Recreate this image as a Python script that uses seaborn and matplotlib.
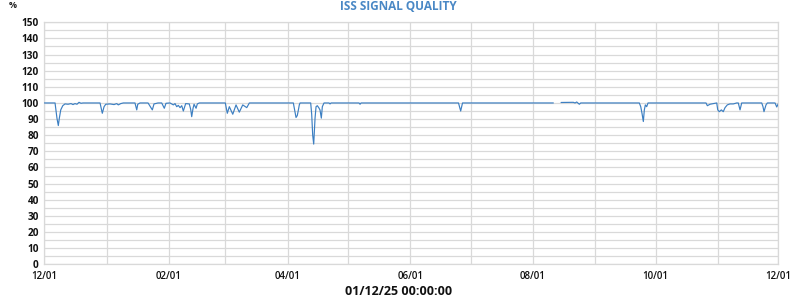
import matplotlib
matplotlib.use("Agg")
import matplotlib.pyplot as plt
import matplotlib.dates as mdates
from matplotlib.ticker import MultipleLocator
import seaborn as sns
import pandas as pd
import numpy as np

# ---- data ----
seg1_times = [
    "2024-12-01 00:00", "2024-12-06 08:00", "2024-12-07 07:00", "2024-12-07 23:00",
    "2024-12-08 11:00", "2024-12-09 04:00", "2024-12-10 04:00", "2024-12-11 07:00",
    "2024-12-12 19:00", "2024-12-14 07:00", "2024-12-15 06:00", "2024-12-16 06:00",
    "2024-12-17 06:00", "2024-12-18 06:00", "2024-12-19 06:00", "2024-12-20 06:00",
    "2024-12-28 17:00", "2024-12-29 20:00", "2024-12-30 17:00", "2024-12-31 13:00",
    "2025-01-02 16:00", "2025-01-04 16:00", "2025-01-06 00:00", "2025-01-06 19:00",
    "2025-01-08 00:00", "2025-01-09 07:00", "2025-01-15 02:00", "2025-01-15 23:00",
    "2025-01-16 11:00", "2025-01-17 14:00", "2025-01-21 14:00", "2025-01-23 17:00",
    "2025-01-24 13:00", "2025-01-26 13:00", "2025-01-28 09:00", "2025-01-29 16:00",
    "2025-01-30 12:00", "2025-02-01 12:00", "2025-02-03 04:00", "2025-02-04 00:00",
    "2025-02-04 20:00", "2025-02-05 15:00", "2025-02-06 12:00", "2025-02-07 08:00",
    "2025-02-08 03:00", "2025-02-09 07:00", "2025-02-11 02:00", "2025-02-11 19:00",
    "2025-02-12 07:00", "2025-02-12 23:00", "2025-02-13 11:00", "2025-02-14 11:00",
    "2025-02-15 02:00", "2025-02-16 02:00", "2025-03-01 00:00", "2025-03-02 00:00",
    "2025-03-03 00:00", "2025-03-04 17:00", "2025-03-06 08:00", "2025-03-07 23:00",
    "2025-03-09 16:00", "2025-03-11 16:00", "2025-03-12 23:00", "2025-04-03 20:00",
    "2025-04-04 04:00", "2025-04-05 04:00", "2025-04-05 19:00", "2025-04-06 12:00",
    "2025-04-06 19:00", "2025-04-07 04:00", "2025-04-12 11:00", "2025-04-12 23:00",
    "2025-04-13 11:00", "2025-04-13 23:00", "2025-04-14 15:00", "2025-04-15 03:00",
    "2025-04-15 18:00", "2025-04-16 11:00", "2025-04-17 02:00", "2025-04-17 18:00",
    "2025-04-18 06:00", "2025-04-19 02:00", "2025-04-21 14:00", "2025-04-22 02:00",
    "2025-04-22 14:00", "2025-05-06 12:00", "2025-05-07 00:00", "2025-05-07 12:00",
    "2025-06-24 23:00", "2025-06-26 01:00", "2025-06-26 23:00", "2025-08-11 03:00",
]
seg1_values = [
    100, 100, 90.5, 86,
    90.5, 95.7, 98.3, 99.4,
    99.2, 99.6, 99.0, 99.6,
    99.2, 100.4, 99.8, 100,
    100, 93.6, 97.7, 99.2,
    99.4, 99.0, 99.6, 98.8,
    99.6, 100, 100, 95.7,
    99.2, 100, 100, 95.7,
    99.4, 100, 100, 96.7,
    99.8, 100, 98.8, 99.6,
    97.7, 98.5, 97.1, 98.3,
    95.0, 99.6, 99.4, 96.0,
    91.5, 96.7, 99.2, 96.7,
    99.4, 100, 100, 93.6,
    97.7, 93.0, 98.8, 94.3,
    98.8, 97.1, 100, 100,
    97.7, 91.0, 92.2, 96.7,
    98.8, 100, 100, 93.0,
    80.0, 74.5, 90.6, 97.7,
    98.3, 97.1, 95.7, 90.6,
    97.7, 100, 100, 99.4,
    100, 100, 99.2, 100,
    100, 95.0, 100, 100,
]
seg2_times = [
    "2025-08-14 23:00", "2025-08-21 01:00", "2025-08-21 22:00", "2025-08-22 18:00",
    "2025-08-24 01:00", "2025-08-24 18:00", "2025-09-22 21:00", "2025-09-23 14:00",
    "2025-09-24 05:00", "2025-09-24 21:00", "2025-09-25 09:00", "2025-09-25 21:00",
    "2025-09-26 13:00", "2025-09-27 05:00", "2025-10-26 01:00", "2025-10-26 17:00",
    "2025-10-28 01:00", "2025-10-29 16:00", "2025-10-31 09:00", "2025-10-31 21:00",
    "2025-11-01 16:00", "2025-11-02 16:00", "2025-11-03 15:00", "2025-11-04 12:00",
    "2025-11-05 15:00", "2025-11-06 23:00", "2025-11-08 15:00", "2025-11-10 07:00",
    "2025-11-11 02:00", "2025-11-11 23:00", "2025-11-12 19:00", "2025-11-22 18:00",
    "2025-11-23 09:00", "2025-11-23 21:00", "2025-11-24 21:00", "2025-11-25 13:00",
    "2025-11-29 09:00", "2025-11-30 05:00", "2025-12-01 00:00",
]
seg2_values = [
    100.3, 100.4, 100, 100.6,
    99.2, 100, 100, 97.7,
    93.6, 88.5, 95.7, 98.8,
    97.7, 100, 100, 98.3,
    99.2, 99.6, 100, 95.7,
    94.6, 95.7, 94.6, 97.1,
    98.8, 99.4, 99.4, 100,
    100, 95.7, 100, 100,
    97.7, 94.6, 98.8, 100,
    100, 97.5, 99.6,
]

title = "ISS SIGNAL QUALITY"
unit_label = "%"
x_label = "01/12/25 00:00:00"

df = pd.concat([
    pd.DataFrame({"time": pd.to_datetime(seg1_times), "value": seg1_values, "seg": 1}),
    pd.DataFrame({"time": pd.to_datetime(seg2_times), "value": seg2_values, "seg": 2}),
], ignore_index=True)

sns.set_theme(style="white")
plt.rcParams["font.family"] = ["Open Sans", "DejaVu Sans"]

fig = plt.figure(figsize=(8, 3), dpi=100)
ax = fig.add_axes([0.0554, 0.119, 0.9729 - 0.0554, 0.9257 - 0.119])

grid_c = "#d9d9d9"
sns.lineplot(data=df, x="time", y="value", units="seg", estimator=None,
             color="#3c7fc2", linewidth=0.85, ax=ax, zorder=3)

ax.set_xlim(pd.Timestamp("2024-12-01"), pd.Timestamp("2025-12-01"))
ax.set_ylim(0, 150)

ax.xaxis.set_major_locator(mdates.MonthLocator(bymonth=[12, 2, 4, 6, 8, 10]))
ax.xaxis.set_minor_locator(mdates.MonthLocator())
ax.xaxis.set_major_formatter(mdates.DateFormatter("%m/%d"))
ax.yaxis.set_major_locator(MultipleLocator(10))
ax.yaxis.set_minor_locator(MultipleLocator(5))

ax.grid(True, which="both", color=grid_c, linewidth=0.9)
ax.set_axisbelow(True)
for s in ax.spines.values():
    s.set_color(grid_c)
    s.set_linewidth(0.9)

ax.tick_params(axis="both", which="both", length=0)
ax.tick_params(axis="x", labelsize=7, labelcolor="#111111", pad=4.5)
ax.tick_params(axis="y", labelsize=7.2, labelcolor="#111111", pad=4)
for lab in ax.get_yticklabels():
    lab.set_fontweight("bold")
for lab in ax.get_xticklabels():
    lab.set_fontweight("semibold")

ax.set_ylabel("")
ax.set_xlabel("")
fig.text(0.498, 0.027, x_label, ha="center", va="center", fontsize=9,
         fontweight="bold", color="#111111")

fig.text(0.498, 0.977, title, ha="center", va="center", fontsize=8.5,
         fontweight="bold", color="#4a88c5")
fig.text(0.0165, 0.98, unit_label, ha="center", va="center", fontsize=6.5,
         fontweight="bold", color="#222222")

fig.savefig("out.png", dpi=100)
